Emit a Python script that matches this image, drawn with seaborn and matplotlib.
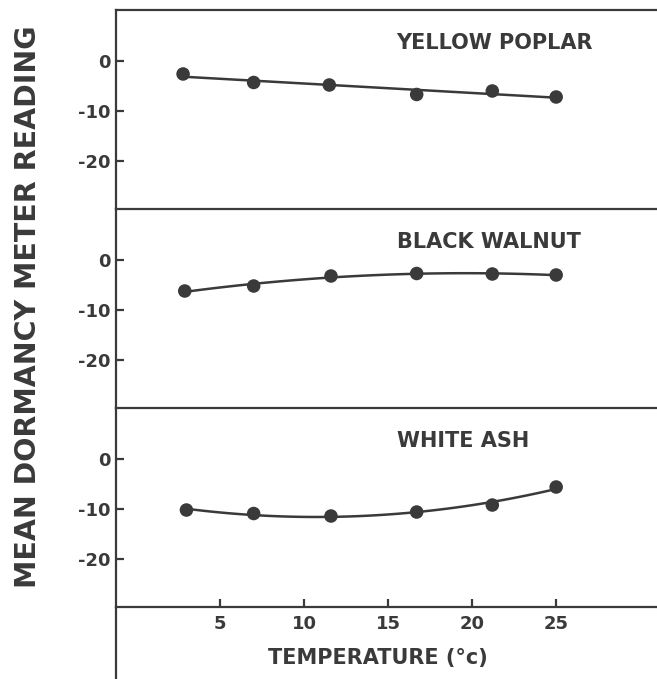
import matplotlib
matplotlib.use("Agg")
import matplotlib.pyplot as plt
import seaborn as sns
from matplotlib.lines import Line2D

# ---- data ----
species = ["YELLOW POPLAR", "BLACK WALNUT", "WHITE ASH"]
temps_poplar = [2.8, 7.0, 11.5, 16.7, 21.2, 25.0]
vals_poplar = [-2.6, -4.3, -4.8, -6.7, -6.0, -7.2]
temps_walnut = [2.9, 7.0, 11.6, 16.7, 21.2, 25.0]
vals_walnut = [-6.2, -5.2, -3.2, -2.7, -2.8, -3.0]
temps_ash = [3.0, 7.0, 11.6, 16.7, 21.2, 25.0]
vals_ash = [-10.2, -10.9, -11.4, -10.6, -9.2, -5.6]
fit_orders = [1, 2, 2]
x_ticks = [5, 10, 15, 20, 25]
y_ticks = [0, -10, -20]

series = [(temps_poplar, vals_poplar), (temps_walnut, vals_walnut), (temps_ash, vals_ash)]

sns.set_theme(style="white")
plt.rcParams["font.family"] = ["DejaVu Sans"]
plt.rcParams["font.weight"] = "bold"

ink = "#3a3a3a"

fig, axes = plt.subplots(3, 1, figsize=(6.57, 6.79), dpi=100, sharex=True)
fig.subplots_adjust(left=0.1766, right=1.0, top=0.9853, bottom=0.106, hspace=0)

for ax, name, (tx, ty), order in zip(axes, species, series, fit_orders):
    sns.regplot(x=tx, y=ty, order=order, ci=None, ax=ax, color=ink, truncate=True,
                scatter_kws=dict(s=95, alpha=1, edgecolor="none", zorder=3),
                line_kws=dict(lw=1.8, zorder=2))
    ax.set_xlim(-1.19, 31)
    ax.set_ylim(-29.6, 10.2)
    ax.set_yticks(y_ticks)
    ax.set_yticklabels([str(v) for v in y_ticks], fontsize=13, fontweight="bold", color=ink)
    ax.tick_params(axis="y", direction="in", length=6, width=1.6, color=ink, pad=4, left=True)
    for s in ["right", "bottom"]:
        ax.spines[s].set_visible(False)
    for s in ["left", "top"]:
        ax.spines[s].set_color(ink)
        ax.spines[s].set_linewidth(1.6)
    ax.text(15.5, 3.6, name, fontsize=15, fontweight="bold", color=ink, ha="left", va="center")
    ax.set_xlabel("")
    ax.set_ylabel("")

bottom = axes[-1]
bottom.spines["bottom"].set_visible(True)
bottom.spines["bottom"].set_color(ink)
bottom.spines["bottom"].set_linewidth(1.6)
bottom.set_xticks(x_ticks)
bottom.set_xticklabels([str(v) for v in x_ticks], fontsize=13, fontweight="bold", color=ink)
bottom.tick_params(axis="x", direction="in", length=6, width=1.6, color=ink, pad=6, bottom=True)

# left axis line continues below the x axis
fig.add_artist(Line2D([0.1766, 0.1766], [0.0, 0.106], transform=fig.transFigure,
                      color=ink, lw=1.6))

fig.text(0.043, 0.548, "MEAN DORMANCY METER READING", rotation=90, fontsize=20.5,
         fontweight="bold", color=ink, ha="center", va="center")
fig.text(0.575, 0.031, "TEMPERATURE (°c)", fontsize=15, fontweight="bold",
         color=ink, ha="center", va="center")

fig.savefig("out.png", dpi=100, facecolor="white")
